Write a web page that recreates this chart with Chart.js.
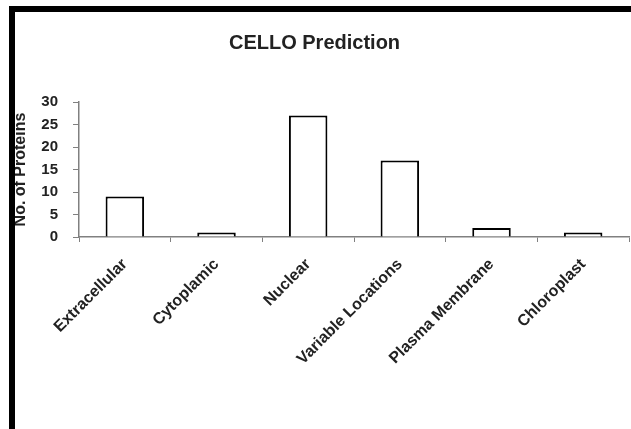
<!DOCTYPE html>
<html>
<head>
<meta charset="utf-8">
<script src="https://cdn.jsdelivr.net/npm/chart.js@4/dist/chart.umd.min.js"></script>
<style>
  html, body { margin: 0; padding: 0; background: #fff; }
  #wrap { position: relative; width: 631px; height: 429px; }
  #chart { position: absolute; left: 0; top: 0; }
  .edge { position: absolute; background: #000; z-index: 2; }
</style>
</head>
<body>
<div id="wrap">
  <canvas id="chart" width="631" height="429"></canvas>
  <div class="edge" style="left:9px; top:6px; width:622px; height:6px"></div>
  <div class="edge" style="left:9px; top:6px; width:6px; height:423px"></div>
</div>
<script>
const locations = ['Extracellular', 'Cytoplamic', 'Nuclear', 'Variable Locations', 'Plasma Membrane', 'Chloroplast']
const proteinCounts = [9, 1, 27, 17, 2, 1]
const yTicks = [0, 5, 10, 15, 20, 25, 30]

const axisGray = '#808080'
const txt = '#222'
const boldFont = size => ({family: 'Arial, "Liberation Sans", sans-serif', size: size, weight: 'bold'})

const ctx = document.getElementById('chart')
new Chart(ctx, {
    type: 'bar',
    data: {
        labels: locations,
        datasets: [{
            label: 'No. of Proteins',
            data: proteinCounts,
            backgroundColor: '#fff',
            borderColor: '#000',
            borderWidth: 2,
            barPercentage: 0.42,
            categoryPercentage: 1
        }]
    },
    options: {
        responsive: false,
        animation: false,
        layout: {padding: {left: 0, right: 2, top: 0, bottom: 0}},
        plugins: {
            legend: {display: false},
            tooltip: {enabled: false},
            title: {
                display: true,
                text: 'CELLO Prediction',
                color: txt,
                font: boldFont(20),
                padding: {top: 31, bottom: 47}
            }
        },
        scales: {
            x: {
                grid: {display: true, drawOnChartArea: false, drawTicks: true, tickLength: 5, color: axisGray, offset: true},
                border: {display: true, color: axisGray, width: 1.5},
                ticks: {color: txt, font: boldFont(16), minRotation: 45, maxRotation: 45, padding: 13, autoSkip: false},
                afterFit: s => { s.height = 192 }
            },
            y: {
                min: 0,
                max: 30,
                afterBuildTicks: s => { s.ticks = yTicks.map(v => ({value: v})) },
                grid: {display: true, drawOnChartArea: false, drawTicks: true, tickLength: 6, color: axisGray},
                border: {display: true, color: axisGray, width: 1.5},
                ticks: {color: txt, font: boldFont(15), padding: 15},
                title: {
                    display: true,
                    text: 'No. of Proteins',
                    color: txt,
                    font: boldFont(16),
                    padding: {top: 11, bottom: 0}
                },
                afterFit: s => { s.width = 79 }
            }
        }
    }
})
</script>
</body>
</html>
